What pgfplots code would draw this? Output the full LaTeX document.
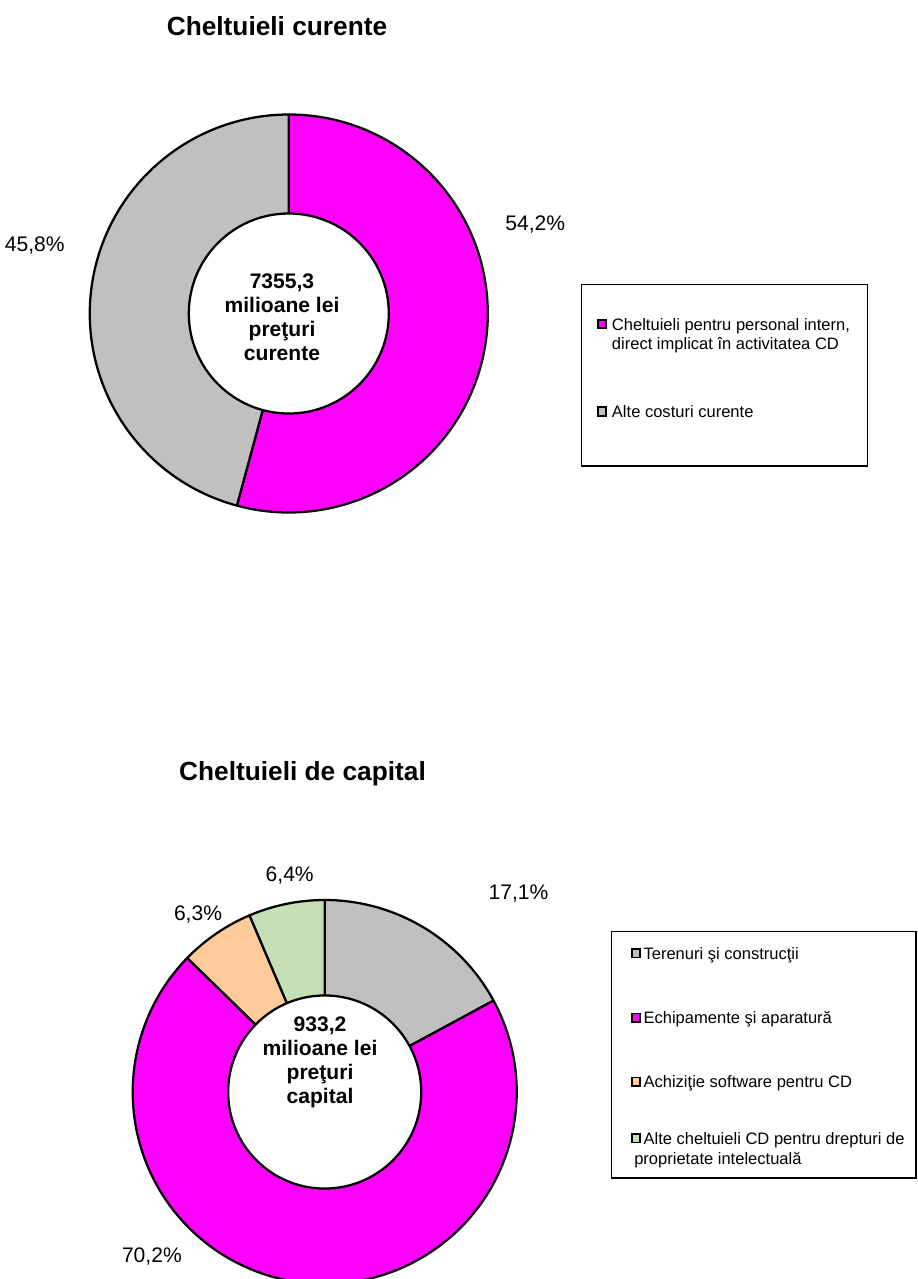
\documentclass[border=0pt]{standalone}
\usepackage{pgfplots}
\pgfplotsset{compat=1.18}
\usepackage{fontspec}
\setmainfont{Liberation Sans}

\definecolor{slicepink}{RGB}{255,0,255}
\definecolor{slicegrey}{RGB}{192,192,192}
\definecolor{sliceorange}{RGB}{255,204,153}
\definecolor{slicegreen}{RGB}{197,224,180}

% one ring slice: start angle, share (%), colour, outer radius (= axis unit)
\newcommand{\slice}[4]{%
  \filldraw[fill=#3, draw=black, line width=1.7pt, line join=round]
    (axis cs:0,0) -- (axis cs:{cos(#1)},{sin(#1)})
    arc[start angle={#1}, delta angle={-3.6*#2}, radius=#4] -- cycle;}

\newcommand{\legmark}[3]{% x, y centre (px), colour
  \filldraw[fill=#3, draw=black, line width=1.3pt] (#1-4.3,#2-4.3) rectangle (#1+4.3,#2+4.3);}

\begin{document}
\begin{tikzpicture}[x=0.75pt, y=-0.75pt]
\fill[white] (0,0) rectangle (918,1279);
\path[use as bounding box] (0,0) rectangle (918,1279);
\coordinate (c1) at (288.8,313.5);
\coordinate (c2) at (324.7,1092);

\tikzset{
  ttl/.style={font=\bfseries\fontsize{19.7}{23}\selectfont, anchor=base},
  pct/.style={font=\fontsize{15.8}{19}\selectfont, anchor=base west},
  mid/.style={font=\bfseries\fontsize{15.8}{18}\selectfont, align=center, anchor=center},
  leg/.style={font=\fontsize{12.4}{14}\selectfont, anchor=base west, inner sep=0pt},
}

% ---------------- Cheltuieli curente ----------------
\node[ttl] at (277,35.7) {Cheltuieli curente};

\begin{axis}[at={(c1)}, anchor=center, hide axis,
    x=149.25pt, y=149.25pt,
    xmin=-1.1, xmax=1.1, ymin=-1.1, ymax=1.1, clip=false]
  \slice{90}{54.2}{slicepink}{149.25pt}
  \slice{90-3.6*54.2}{45.8}{slicegrey}{149.25pt}
  \filldraw[fill=white, draw=black, line width=1.7pt] (axis cs:0,0) circle[radius=75pt];
\end{axis}

\node[mid] at (282,317.5) {7355,3\\milioane lei\\preţuri\\curente};
\node[pct] at (500.7,230.8) {54,2\%};
\node[pct, anchor=base east] at (69.3,251.7) {45,8\%};

\draw[line width=0.9pt] (581.7,284.3) rectangle (867.3,466);
\legmark{602}{324}{slicepink}
\node[leg] at (611.7,330.5) {Cheltuieli pentru personal intern,};
\node[leg] at (611.7,349.5) {direct implicat în activitatea CD};
\legmark{602}{411.5}{slicegrey}
\node[leg] at (611.7,417.7) {Alte costuri curente};

% ---------------- Cheltuieli de capital ----------------
\node[ttl] at (302.5,780) {Cheltuieli de capital};

\begin{axis}[at={(c2)}, anchor=center, hide axis,
    x=144pt, y=144pt,
    xmin=-1.1, xmax=1.1, ymin=-1.1, ymax=1.1, clip=false]
  \slice{90}{17.1}{slicegrey}{144pt}
  \slice{90-3.6*17.1}{70.2}{slicepink}{144pt}
  \slice{90-3.6*87.3}{6.3}{sliceorange}{144pt}
  \slice{90-3.6*93.6}{6.4}{slicegreen}{144pt}
  \filldraw[fill=white, draw=black, line width=1.7pt] (axis cs:0,0) circle[radius=72.4pt];
\end{axis}

\node[mid] at (320,1062.5) {933,2\\milioane lei\\preţuri\\capital};
\node[pct] at (261,881.2) {6,4\%};
\node[pct] at (484,899.7) {17,1\%};
\node[pct] at (169.3,920.8) {6,3\%};
\node[pct] at (117.3,1262.5) {70,2\%};

\draw[line width=0.9pt] (611.7,931.7) rectangle (916,1178);
\legmark{636}{953.3}{slicegrey}
\node[leg] at (643.3,959.3) {Terenuri şi construcţii};
\legmark{636}{1017.7}{slicepink}
\node[leg] at (643.3,1023.7) {Echipamente şi aparatură};
\legmark{636}{1081.7}{sliceorange}
\node[leg] at (643.3,1087.7) {Achiziţie software pentru CD};
\legmark{636}{1138.3}{slicegreen}
\node[leg] at (643.3,1144.3) {Alte cheltuieli CD pentru drepturi de};
\node[leg] at (634,1164.3) {proprietate intelectuală};
\end{tikzpicture}
\end{document}
